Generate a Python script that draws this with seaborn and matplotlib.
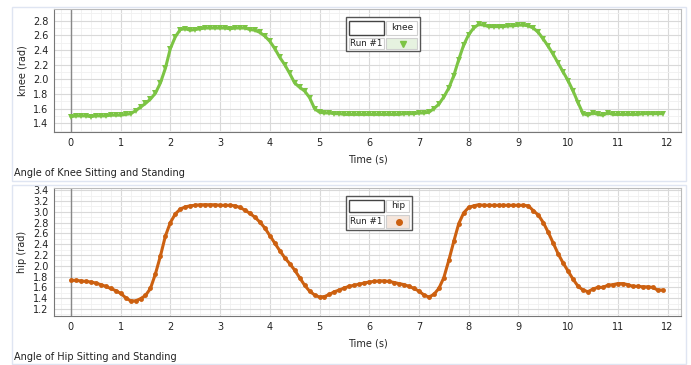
import numpy as np
import pandas as pd
import seaborn as sns
import matplotlib.pyplot as plt
from matplotlib.patches import Rectangle
from matplotlib.ticker import MultipleLocator, AutoMinorLocator

# time in seconds, one reading every 0.1 s
time = [round(i * 0.1, 1) for i in range(120)]

knee = [1.49, 1.50, 1.50, 1.50, 1.49, 1.50, 1.50, 1.50, 1.51, 1.51,
        1.51, 1.52, 1.53, 1.57, 1.62, 1.67, 1.73, 1.81, 1.95, 2.15,
        2.42, 2.58, 2.68, 2.69, 2.67, 2.68, 2.69, 2.70, 2.70, 2.70,
        2.70, 2.70, 2.69, 2.70, 2.70, 2.70, 2.68, 2.67, 2.64, 2.59,
        2.52, 2.42, 2.30, 2.20, 2.08, 1.95, 1.89, 1.84, 1.75, 1.60,
        1.55, 1.54, 1.54, 1.53, 1.53, 1.52, 1.52, 1.52, 1.52, 1.52,
        1.52, 1.52, 1.52, 1.52, 1.52, 1.52, 1.52, 1.53, 1.53, 1.53,
        1.54, 1.54, 1.55, 1.60, 1.66, 1.76, 1.88, 2.05, 2.27, 2.47,
        2.61, 2.70, 2.75, 2.74, 2.72, 2.72, 2.72, 2.72, 2.73, 2.73,
        2.74, 2.74, 2.73, 2.70, 2.64, 2.55, 2.45, 2.34, 2.22, 2.10,
        1.98, 1.84, 1.68, 1.53, 1.51, 1.54, 1.52, 1.51, 1.54, 1.52,
        1.52, 1.52, 1.52, 1.52, 1.52, 1.53, 1.53, 1.53, 1.53, 1.53]

hip = [1.73, 1.73, 1.72, 1.71, 1.70, 1.68, 1.65, 1.62, 1.58, 1.54,
       1.49, 1.41, 1.35, 1.35, 1.39, 1.45, 1.58, 1.85, 2.18, 2.55,
       2.80, 2.96, 3.05, 3.09, 3.11, 3.12, 3.13, 3.13, 3.13, 3.13,
       3.12, 3.12, 3.12, 3.11, 3.08, 3.03, 2.97, 2.90, 2.81, 2.70,
       2.56, 2.42, 2.28, 2.15, 2.04, 1.92, 1.78, 1.64, 1.53, 1.46,
       1.42, 1.43, 1.47, 1.52, 1.55, 1.59, 1.62, 1.64, 1.66, 1.68,
       1.70, 1.71, 1.72, 1.72, 1.71, 1.69, 1.67, 1.65, 1.62, 1.58,
       1.53, 1.46, 1.42, 1.47, 1.58, 1.78, 2.10, 2.45, 2.78, 2.98,
       3.08, 3.11, 3.13, 3.12, 3.12, 3.12, 3.12, 3.12, 3.12, 3.12,
       3.12, 3.12, 3.11, 3.02, 2.94, 2.80, 2.62, 2.42, 2.22, 2.05,
       1.90, 1.75, 1.62, 1.55, 1.52, 1.57, 1.60, 1.60, 1.64, 1.65,
       1.67, 1.67, 1.65, 1.62, 1.62, 1.61, 1.61, 1.60, 1.55, 1.55]

df = pd.DataFrame({"time": time, "knee": knee, "hip": hip})

sns.set_style("white")
plt.rcParams["font.family"] = ["DejaVu Sans"]

W, H = 691, 365
fig = plt.figure(figsize=(W / 100, H / 100), dpi=100)


def px(x0, y0, x1, y1):
    # pixel box (top-left origin) -> figure fraction rect
    return [x0 / W, 1 - y1 / H, (x1 - x0) / W, (y1 - y0) / H]


def panel(y0, y1):
    fig.add_artist(Rectangle((12 / W, 1 - y1 / H), 674 / W, (y1 - y0) / H,
                             transform=fig.transFigure, fill=False,
                             edgecolor="#dfe5f2", lw=1))


def legend(x0, y0, x1, y1, split, mid, name, color, bg, marker):
    def box(a, b, c, d, fc="white", ec="#cfcfcf", lw=0.8):
        fig.add_artist(Rectangle((a / W, 1 - d / H), (c - a) / W, (d - b) / H,
                                 transform=fig.transFigure, facecolor=fc,
                                 edgecolor=ec, lw=lw))
    box(x0, y0, x1, y1, ec="#555555", lw=1)
    box(x0 + 3, y0 + 4, split - 1, mid - 1, ec="#444444", lw=1)
    box(split + 1, y0 + 4, x1 - 3, mid - 1)
    box(x0 + 3, mid + 2, split - 1, y1 - 2)
    box(split + 1, mid + 2, x1 - 3, y1 - 2, fc=bg)
    fig.text((split + x1) / 2 / W, 1 - (y0 + 4 + mid - 1) / 2 / H, name,
             ha="center", va="center", fontsize=6.5, color="#222222")
    fig.text((x0 + split) / 2 / W + 0.5 / W, 1 - (mid + y1) / 2 / H, "Run #1",
             ha="center", va="center", fontsize=6.3, color="#222222")
    fig.add_artist(plt.Line2D([(split + x1) / 2 / W], [1 - (mid + y1) / 2 / H],
                              marker=marker, color=color, markersize=4,
                              transform=fig.transFigure))


def style_axis(ax, ymin, ymax, ylabel):
    ax.set_xlim(-0.34, 12.27)
    ax.set_ylim(ymin, ymax)
    ax.xaxis.set_major_locator(MultipleLocator(1))
    ax.yaxis.set_major_locator(MultipleLocator(0.2))
    ax.xaxis.set_minor_locator(AutoMinorLocator(5))
    ax.yaxis.set_minor_locator(AutoMinorLocator(2))
    ax.grid(which="major", color="#d9d9d9", lw=0.8)
    ax.grid(which="minor", color="#f0f0f0", lw=0.6)
    ax.set_axisbelow(True)
    ax.axvline(0, color="#888888", lw=1, zorder=1)
    for s in ["left", "bottom"]:
        ax.spines[s].set_color("#777777")
    for s in ["top", "right"]:
        ax.spines[s].set_color("#bbbbbb")
    ax.tick_params(labelsize=7, colors="#222222", length=0, pad=4)
    ax.set_ylabel(ylabel, fontsize=7)
    ax.set_xlabel("Time (s)", fontsize=7, labelpad=5)


# knee panel
panel(7, 181)
ax1 = fig.add_axes(px(54, 9, 681, 132))
sns.lineplot(data=df, x="time", y="knee", ax=ax1, color="#7cc444", lw=2.2,
             marker="v", markersize=4, markeredgewidth=0)
style_axis(ax1, 1.28, 2.96, "knee (rad)")
ax1.set_yticks(np.arange(1.4, 2.81, 0.2))
fig.text(14 / W, 1 - 173 / H, "Angle of Knee Sitting and Standing",
         fontsize=7, va="center", color="#222222")
legend(346, 17, 420, 51, 385, 36, "knee", "#7cc444", "#e6f2e0", "v")

# hip panel
panel(185, 364)
ax2 = fig.add_axes(px(54, 188, 681, 316))
sns.lineplot(data=df, x="time", y="hip", ax=ax2, color="#cc6010", lw=2.2,
             marker="o", markersize=3.5, markeredgewidth=0)
style_axis(ax2, 1.07, 3.44, "hip (rad)")
ax2.set_yticks(list(np.arange(1.2, 3.21, 0.2)) + [3.4])
fig.text(14 / W, 1 - 357 / H, "Angle of Hip Sitting and Standing",
         fontsize=7, va="center", color="#222222")
legend(346, 196, 412, 230, 385, 213, "hip", "#cc6010", "#f5e6dc", "o")

fig.savefig("out.png", dpi=100)
